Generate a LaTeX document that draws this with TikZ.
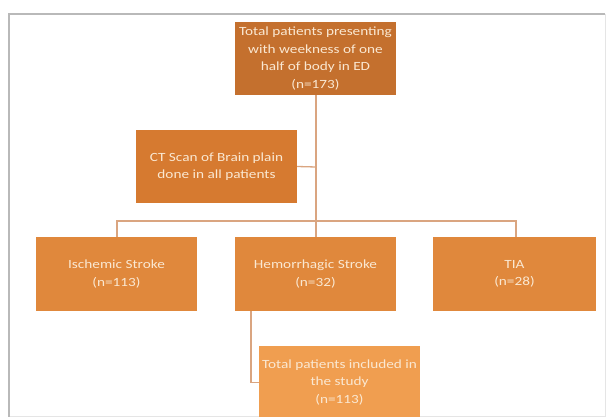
\documentclass[tikz,border=0pt]{standalone}
\usepackage{fontspec}
\setmainfont[FakeStretch=1.22]{Carlito}
\begin{document}
\begin{tikzpicture}[x=1pt,y=-1pt,
  box/.style={rectangle, draw=none, minimum width=161pt, minimum height=73pt, inner sep=1pt,
    text=textcol, align=center, font=\fontsize{12.5}{17.5}\selectfont},
  conn/.style={draw=linecol, line width=1.3pt}]
\definecolor{c1}{RGB}{196,112,46}
\definecolor{c2}{RGB}{214,122,48}
\definecolor{c3}{RGB}{224,136,60}
\definecolor{c4}{RGB}{240,158,80}
\definecolor{textcol}{RGB}{250,232,210}
\definecolor{linecol}{RGB}{218,165,128}
\useasboundingbox (0,0) rectangle (608,417);
\clip (0,0) rectangle (608,417);
% frame
\draw[gray!20, line width=1pt] (605,14) -- (605,416) -- (9,416);
\draw[gray!55, line width=1.6pt] (9,417) -- (9,14) -- (605,14);
% nodes
\node[box, fill=c1] (top) at (315.5,58.5) {Total patients presenting\\with weekness of one\\half of body in ED\\(n=173)};
\node[box, fill=c2] (ct) at (216.5,166.5) {CT Scan of Brain plain\\done in all patients};
\node[box, fill=c3, minimum height=74pt] (isch) at (116.5,274) {Ischemic Stroke\\(n=113)};
\node[box, fill=c3, minimum height=74pt] (hem) at (315.5,274) {Hemorrhagic Stroke\\(n=32)};
\node[box, fill=c3, minimum height=74pt, minimum width=163pt] (tia) at (514.5,274) {TIA\\(n=28)};
\node[box, fill=c4] (incl) at (339.5,382.5) {Total patients included in\\the study\\(n=113)};
% connectors
\coordinate (j) at (316,221);
\coordinate (jl) at (117,221);
\coordinate (jr) at (516,221);
\coordinate (jc) at (316,167);
\coordinate (b1) at (251,311);
\coordinate (b2) at (251,382.5);
\draw[conn] (top.south -| j) -- (j) -- (hem.north -| j);
\draw[conn] (ct.east) -- (jc);
\draw[conn] (isch.north -| jl) -- (jl) -- (jr) -- (tia.north -| jr);
\draw[conn] (b1) -- (b2) -- (incl.west);
\end{tikzpicture}
\end{document}
